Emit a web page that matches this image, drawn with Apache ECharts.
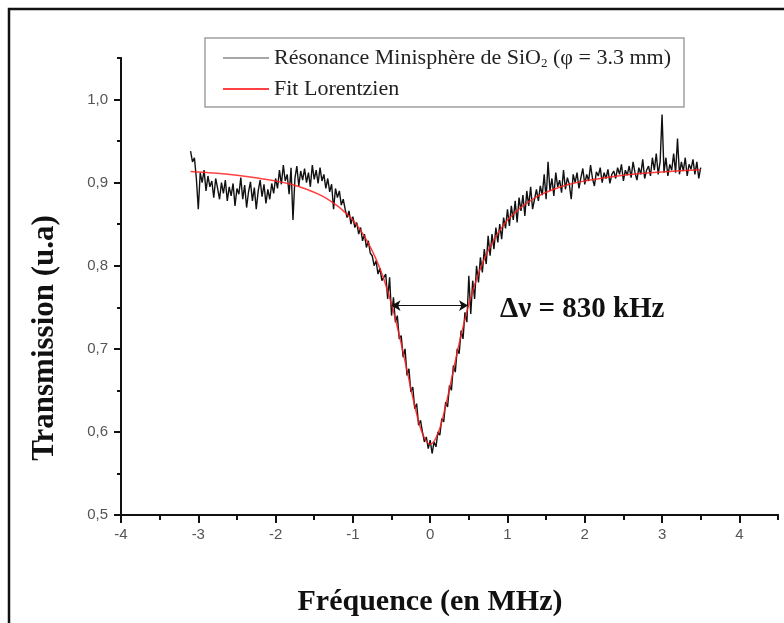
<!DOCTYPE html>
<html><head><meta charset="utf-8">
<script src="https://cdn.jsdelivr.net/npm/echarts@6/dist/echarts.min.js"></script>
<style>html,body{margin:0;padding:0;background:#fff}#c{width:784px;height:623px}</style>
</head><body><div id="c"></div>
<script>
// Measured transmission, sampled from x = -3.1 MHz every 0.025 MHz
const dataStart = -3.1;
const dataStep = 0.025;
const transmission = [
  0.938,0.925,0.930,0.905,0.868,0.912,0.900,0.915,0.890,0.908,0.895,0.902,0.882,0.905,0.893,0.880,0.900,0.887,0.903,0.878,
  0.895,0.884,0.899,0.872,0.893,0.886,0.906,0.880,0.897,0.870,0.889,0.901,0.878,0.894,0.868,0.890,0.903,0.883,0.898,0.875,
  0.892,0.880,0.899,0.887,0.905,0.893,0.915,0.898,0.921,0.902,0.910,0.886,0.918,0.855,0.905,0.920,0.896,0.914,0.903,0.917,
  0.900,0.912,0.895,0.921,0.904,0.915,0.899,0.918,0.902,0.910,0.893,0.905,0.889,0.898,0.868,0.893,0.882,0.890,0.873,0.880,
  0.868,0.858,0.866,0.850,0.859,0.846,0.852,0.838,0.846,0.830,0.838,0.822,0.830,0.815,0.812,0.800,0.806,0.790,0.797,0.782,
  0.780,0.790,0.760,0.786,0.740,0.762,0.732,0.740,0.712,0.716,0.690,0.700,0.668,0.676,0.648,0.654,0.628,0.634,0.608,0.614,
  0.600,0.588,0.594,0.580,0.590,0.574,0.588,0.582,0.600,0.596,0.616,0.612,0.636,0.630,0.656,0.650,0.680,0.672,0.700,0.694,
  0.722,0.712,0.744,0.732,0.788,0.742,0.782,0.760,0.800,0.780,0.810,0.792,0.820,0.802,0.836,0.812,0.838,0.820,0.846,0.828,
  0.850,0.832,0.858,0.845,0.868,0.848,0.872,0.855,0.878,0.852,0.882,0.866,0.885,0.860,0.890,0.872,0.895,0.868,0.880,0.892,
  0.878,0.896,0.885,0.910,0.880,0.925,0.890,0.905,0.884,0.912,0.895,0.903,0.888,0.915,0.892,0.906,0.898,0.880,0.910,0.900,
  0.912,0.893,0.906,0.917,0.898,0.910,0.902,0.921,0.905,0.896,0.913,0.908,0.918,0.900,0.912,0.905,0.916,0.899,0.910,0.914,
  0.905,0.918,0.910,0.922,0.902,0.915,0.909,0.920,0.906,0.925,0.912,0.903,0.918,0.910,0.928,0.905,0.915,0.920,0.908,0.930,
  0.915,0.935,0.910,0.925,0.982,0.912,0.930,0.908,0.922,0.915,0.935,0.912,0.953,0.910,0.925,0.914,0.930,0.908,0.922,0.916,
  0.928,0.910,0.925,0.905,0.918
];
// Lorentzian fit
const fitFreq = [-3.1,-2.8,-2.5,-2.2,-2.0,-1.8,-1.6,-1.4,-1.2,-1.1,-1.0,-0.9,-0.8,-0.7,-0.6,-0.5,-0.4,-0.3,-0.2,-0.1,0,
  0.1,0.2,0.3,0.4,0.5,0.6,0.7,0.8,0.9,1.0,1.1,1.2,1.4,1.6,1.8,2.0,2.2,2.5,2.8,3.1,3.5];
const fitValue = [0.9135,0.9116,0.909,0.905,0.902,0.898,0.892,0.884,0.872,0.864,0.855,0.8425,0.827,0.808,0.784,0.7535,0.7165,0.674,0.6315,0.598,0.585,
  0.598,0.6315,0.674,0.7165,0.7535,0.784,0.808,0.827,0.8425,0.855,0.864,0.872,0.884,0.892,0.898,0.902,0.905,0.909,0.9116,0.9135,0.9154];
// Linewidth arrow (FWHM)
const fwhmStart = -0.5, fwhmEnd = 0.49, fwhmLevel = 0.752;
const fwhmLabel = 'Δν = 830 kHz';
// Axis ticks
const xMajorTicks = [-4,-3,-2,-1,0,1,2,3,4];
const xMinorTicks = [-3.5,-2.5,-1.5,-0.5,0.5,1.5,2.5,3.5,4.5];
const yMajorTicks = [0.5,0.6,0.7,0.8,0.9,1.0];
const yMinorTicks = [0.55,0.65,0.75,0.85,0.95,1.05];
const seriesNames = ['Résonance Minisphère de SiO2 (φ = 3.3 mm)', 'Fit Lorentzien'];

const measured = transmission.map((v, i) => [dataStart + i * dataStep, v]);
const fit = fitFreq.map((f, i) => [f, fitValue[i]]);

const serif = '"Liberation Serif","Times New Roman",serif';
const sans = '"Liberation Sans",Arial,sans-serif';
const chart = echarts.init(document.getElementById('c'), null, {renderer: 'canvas'});
const axisLine = {show: true, onZero: false, lineStyle: {color: '#111', width: 2}};
chart.setOption({
  animation: false,
  backgroundColor: '#fff',
  grid: {left: 121, right: 6, top: 58, bottom: 108},
  legend: {
    orient: 'vertical', left: 205, top: 38,
    padding: [9, 13, 7, 17],
    borderColor: '#a0a0a0', borderWidth: 1.5,
    itemWidth: 46, itemHeight: 12, itemGap: 8,
    data: [
      {name: seriesNames[0], lineStyle: {color: '#8a8a8a', width: 1.5}, itemStyle: {opacity: 0}},
      {name: seriesNames[1], lineStyle: {color: '#ff2020', width: 2}, itemStyle: {opacity: 0}}
    ],
    formatter: n => n === seriesNames[0] ? 'Résonance Minisphère de SiO{sub|2} (φ = 3.3 mm)' : n,
    textStyle: {fontFamily: serif, fontSize: 22, color: '#222',
      rich: {sub: {fontFamily: serif, fontSize: 13, color: '#222', padding: [11, 0, 0, 0]}}}
  },
  xAxis: [
    {type: 'value', min: -4, max: 4.5, position: 'bottom',
     axisLine: axisLine, splitLine: {show: false},
     axisTick: {show: true, length: 8, lineStyle: {color: '#111', width: 2}, customValues: xMajorTicks},
     axisLabel: {customValues: xMajorTicks, color: '#555', fontFamily: sans, fontSize: 15, margin: 12,
                 formatter: v => String(v)}},
    {type: 'value', min: -4, max: 4.5, position: 'bottom',
     axisLine: axisLine, splitLine: {show: false},
     axisTick: {show: true, length: 5, lineStyle: {color: '#111', width: 2}, customValues: xMinorTicks},
     axisLabel: {show: false}}
  ],
  yAxis: [
    {type: 'value', min: 0.5, max: 1.05, position: 'left',
     axisLine: axisLine, splitLine: {show: false},
     axisTick: {show: true, length: 7, lineStyle: {color: '#111', width: 2}, customValues: yMajorTicks},
     axisLabel: {customValues: yMajorTicks, color: '#555', fontFamily: sans, fontSize: 15, margin: 13,
                 formatter: v => v.toFixed(1).replace('.', ',')}},
    {type: 'value', min: 0.5, max: 1.05, position: 'left',
     axisLine: axisLine, splitLine: {show: false},
     axisTick: {show: true, length: 4, lineStyle: {color: '#111', width: 2}, customValues: yMinorTicks},
     axisLabel: {show: false}}
  ],
  series: [
    {name: seriesNames[0], type: 'line', data: measured, symbol: 'none',
     lineStyle: {color: '#111', width: 1.4}, itemStyle: {color: '#111'}, z: 2},
    {name: seriesNames[1], type: 'line', data: fit, symbol: 'none', smooth: 0.4,
     lineStyle: {color: '#ff2020', width: 1.5, opacity: 0.85}, itemStyle: {color: '#ff2020'}, z: 3,
     markLine: {silent: true, symbol: ['arrow', 'arrow'], symbolSize: [8, 9],
       lineStyle: {color: '#111', width: 1, type: 'solid'}, label: {show: false},
       data: [[{coord: [fwhmStart, fwhmLevel]}, {coord: [fwhmEnd, fwhmLevel]}]]}}
  ],
  graphic: [
    {type: 'rect', shape: {x: 9, y: 9, width: 900, height: 800}, style: {fill: 'none', stroke: '#111', lineWidth: 2.5}, silent: true},
    {type: 'text', x: 45, y: 338, rotation: Math.PI / 2,
     style: {text: 'Transmission (u.a)', font: 'bold 31px ' + serif, fill: '#111', textAlign: 'center', textVerticalAlign: 'middle'}},
    {type: 'text', x: 430, y: 602,
     style: {text: 'Fréquence (en MHz)', font: 'bold 30px ' + serif, fill: '#111', textAlign: 'center', textVerticalAlign: 'middle'}},
    {type: 'text', x: 500, y: 310,
     style: {text: fwhmLabel, font: 'bold 29px ' + serif, fill: '#111', textAlign: 'left', textVerticalAlign: 'middle'}}
  ]
});
</script></body></html>
